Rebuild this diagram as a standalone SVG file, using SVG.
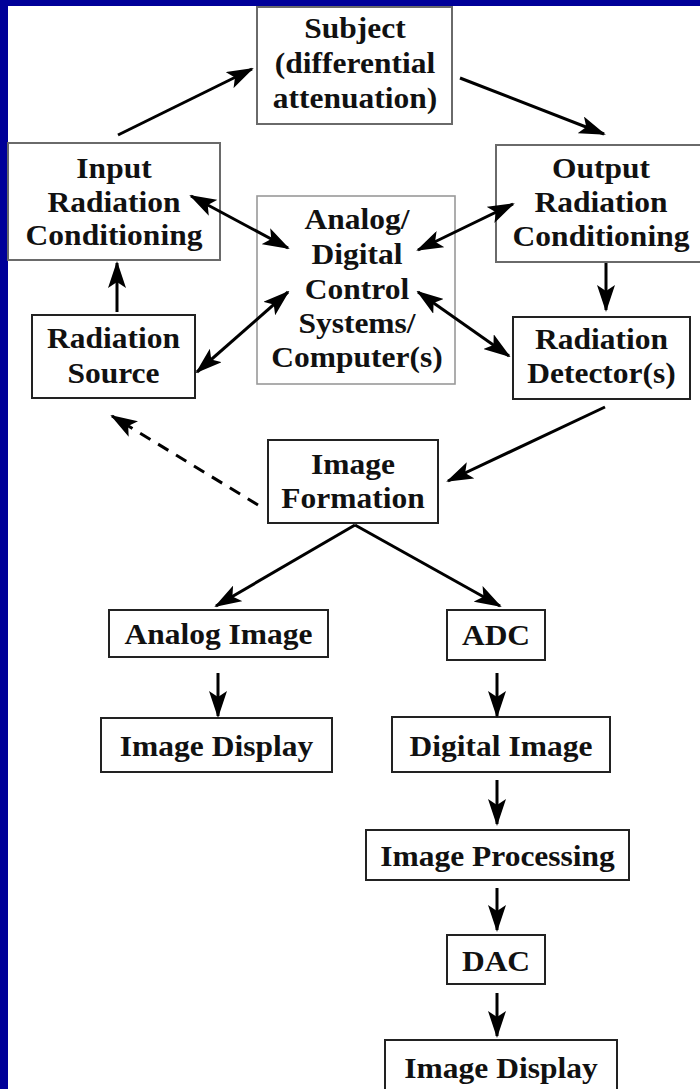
<svg xmlns="http://www.w3.org/2000/svg" width="700" height="1089" viewBox="0 0 700 1089">
  <style>
    .box { fill: #ffffff; stroke: #222222; stroke-width: 2; }
    .soft { stroke: #6a6a6a; }
    .light { stroke: #999999; stroke-width: 1.6; }
    .lbl { font-family: "Liberation Serif", "Times New Roman", serif; font-weight: bold; font-size: 30px; fill: #111111; text-anchor: middle; }
    .wire { fill: none; stroke: #000000; stroke-width: 3; }
    .dash { stroke-dasharray: 12 9; }
  </style>
  <defs>
    <marker id="head" viewBox="0 0 27 18" refX="25" refY="9" markerWidth="27" markerHeight="18" markerUnits="userSpaceOnUse" orient="auto-start-reverse">
      <path d="M0,0 L27,9 L0,18 L6,9 Z" fill="#000000"/>
    </marker>
  </defs>

  <!-- frame -->
  <rect x="0" y="0" width="700" height="1089" fill="#ffffff"/>
  <rect x="0" y="0" width="700" height="6" fill="#000099"/>
  <rect x="0" y="0" width="8" height="1089" fill="#000099"/>

  <!-- nodes -->
  <g id="subject">
    <rect class="box soft" x="257" y="7" width="195" height="117"/>
    <g transform="translate(355 0) scale(1.05 1)">
      <text class="lbl" x="0" y="38">Subject</text>
      <text class="lbl" x="0" y="73">(differential</text>
      <text class="lbl" x="0" y="108">attenuation)</text>
    </g>
  </g>

  <g id="input-conditioning">
    <rect class="box soft" x="8" y="143" width="212" height="117"/>
    <g transform="translate(114 0) scale(1.05 1)">
      <text class="lbl" x="0" y="178">Input</text>
      <text class="lbl" x="0" y="212">Radiation</text>
      <text class="lbl" x="0" y="245">Conditioning</text>
    </g>
  </g>

  <g id="control-systems">
    <rect class="box light" x="257" y="196" width="198" height="188"/>
    <g transform="translate(357 0) scale(1.05 1)">
      <text class="lbl" x="0" y="229">Analog/</text>
      <text class="lbl" x="0" y="264">Digital</text>
      <text class="lbl" x="0" y="299">Control</text>
      <text class="lbl" x="0" y="333">Systems/</text>
      <text class="lbl" x="0" y="367">Computer(s)</text>
    </g>
  </g>

  <g id="output-conditioning">
    <rect class="box soft" x="496" y="145" width="215" height="117"/>
    <g transform="translate(601 0) scale(1.05 1)">
      <text class="lbl" x="0" y="178">Output</text>
      <text class="lbl" x="0" y="212">Radiation</text>
      <text class="lbl" x="0" y="246">Conditioning</text>
    </g>
  </g>

  <g id="radiation-source">
    <rect class="box" x="32" y="315" width="163" height="83"/>
    <g transform="translate(113.5 0) scale(1.05 1)">
      <text class="lbl" x="0" y="348">Radiation</text>
      <text class="lbl" x="0" y="383">Source</text>
    </g>
  </g>

  <g id="radiation-detector">
    <rect class="box" x="513" y="317" width="177" height="82"/>
    <g transform="translate(601.5 0) scale(1.05 1)">
      <text class="lbl" x="0" y="349">Radiation</text>
      <text class="lbl" x="0" y="383">Detector(s)</text>
    </g>
  </g>

  <g id="image-formation">
    <rect class="box" x="268" y="440" width="170" height="83"/>
    <g transform="translate(353 0) scale(1.05 1)">
      <text class="lbl" x="0" y="474">Image</text>
      <text class="lbl" x="0" y="508">Formation</text>
    </g>
  </g>

  <g id="analog-image">
    <rect class="box" x="109" y="610" width="219" height="47"/>
    <text class="lbl" transform="translate(218.5 644) scale(1.05 1)" x="0" y="0">Analog Image</text>
  </g>

  <g id="adc">
    <rect class="box" x="447" y="610" width="98" height="50"/>
    <text class="lbl" transform="translate(496 645) scale(1.05 1)" x="0" y="0">ADC</text>
  </g>

  <g id="analog-display">
    <rect class="box" x="101" y="718" width="231" height="54"/>
    <text class="lbl" transform="translate(216.5 756) scale(1.05 1)" x="0" y="0">Image Display</text>
  </g>

  <g id="digital-image">
    <rect class="box" x="392" y="717" width="218" height="55"/>
    <text class="lbl" transform="translate(501 756) scale(1.05 1)" x="0" y="0">Digital Image</text>
  </g>

  <g id="image-processing">
    <rect class="box" x="366" y="830" width="263" height="50"/>
    <text class="lbl" transform="translate(497.5 866) scale(1.05 1)" x="0" y="0">Image Processing</text>
  </g>

  <g id="dac">
    <rect class="box" x="447" y="935" width="98" height="49"/>
    <text class="lbl" transform="translate(496 971) scale(1.05 1)" x="0" y="0">DAC</text>
  </g>

  <g id="digital-display">
    <rect class="box" x="385" y="1040" width="232" height="60"/>
    <text class="lbl" transform="translate(501 1078) scale(1.05 1)" x="0" y="0">Image Display</text>
  </g>

  <!-- connectors, drawn over the boxes so the heads can reach inside -->
  <g id="connectors">
    <line class="wire" x1="118" y1="135" x2="252" y2="69" marker-end="url(#head)"/>
    <line class="wire" x1="460" y1="78" x2="604" y2="134" marker-end="url(#head)"/>
    <line class="wire" x1="191" y1="196" x2="288" y2="248" marker-start="url(#head)" marker-end="url(#head)"/>
    <line class="wire" x1="418" y1="250" x2="513" y2="204" marker-start="url(#head)" marker-end="url(#head)"/>
    <line class="wire" x1="197" y1="372" x2="288" y2="292" marker-start="url(#head)" marker-end="url(#head)"/>
    <line class="wire" x1="418" y1="292" x2="509" y2="356" marker-start="url(#head)" marker-end="url(#head)"/>
    <line class="wire" x1="117" y1="312" x2="117" y2="263" marker-end="url(#head)"/>
    <line class="wire" x1="606" y1="263" x2="606" y2="310" marker-end="url(#head)"/>
    <line class="wire" x1="605" y1="407" x2="448" y2="481" marker-end="url(#head)"/>
    <line class="wire dash" x1="258" y1="505" x2="112" y2="416" marker-end="url(#head)"/>
    <line class="wire" x1="355" y1="525" x2="216" y2="606" marker-end="url(#head)"/>
    <line class="wire" x1="355" y1="525" x2="500" y2="606" marker-end="url(#head)"/>
    <line class="wire" x1="218" y1="673" x2="218" y2="716" marker-end="url(#head)"/>
    <line class="wire" x1="497" y1="673" x2="497" y2="716" marker-end="url(#head)"/>
    <line class="wire" x1="497" y1="780" x2="497" y2="824" marker-end="url(#head)"/>
    <line class="wire" x1="497" y1="888" x2="497" y2="930" marker-end="url(#head)"/>
    <line class="wire" x1="497" y1="993" x2="497" y2="1036" marker-end="url(#head)"/>
  </g>
</svg>
